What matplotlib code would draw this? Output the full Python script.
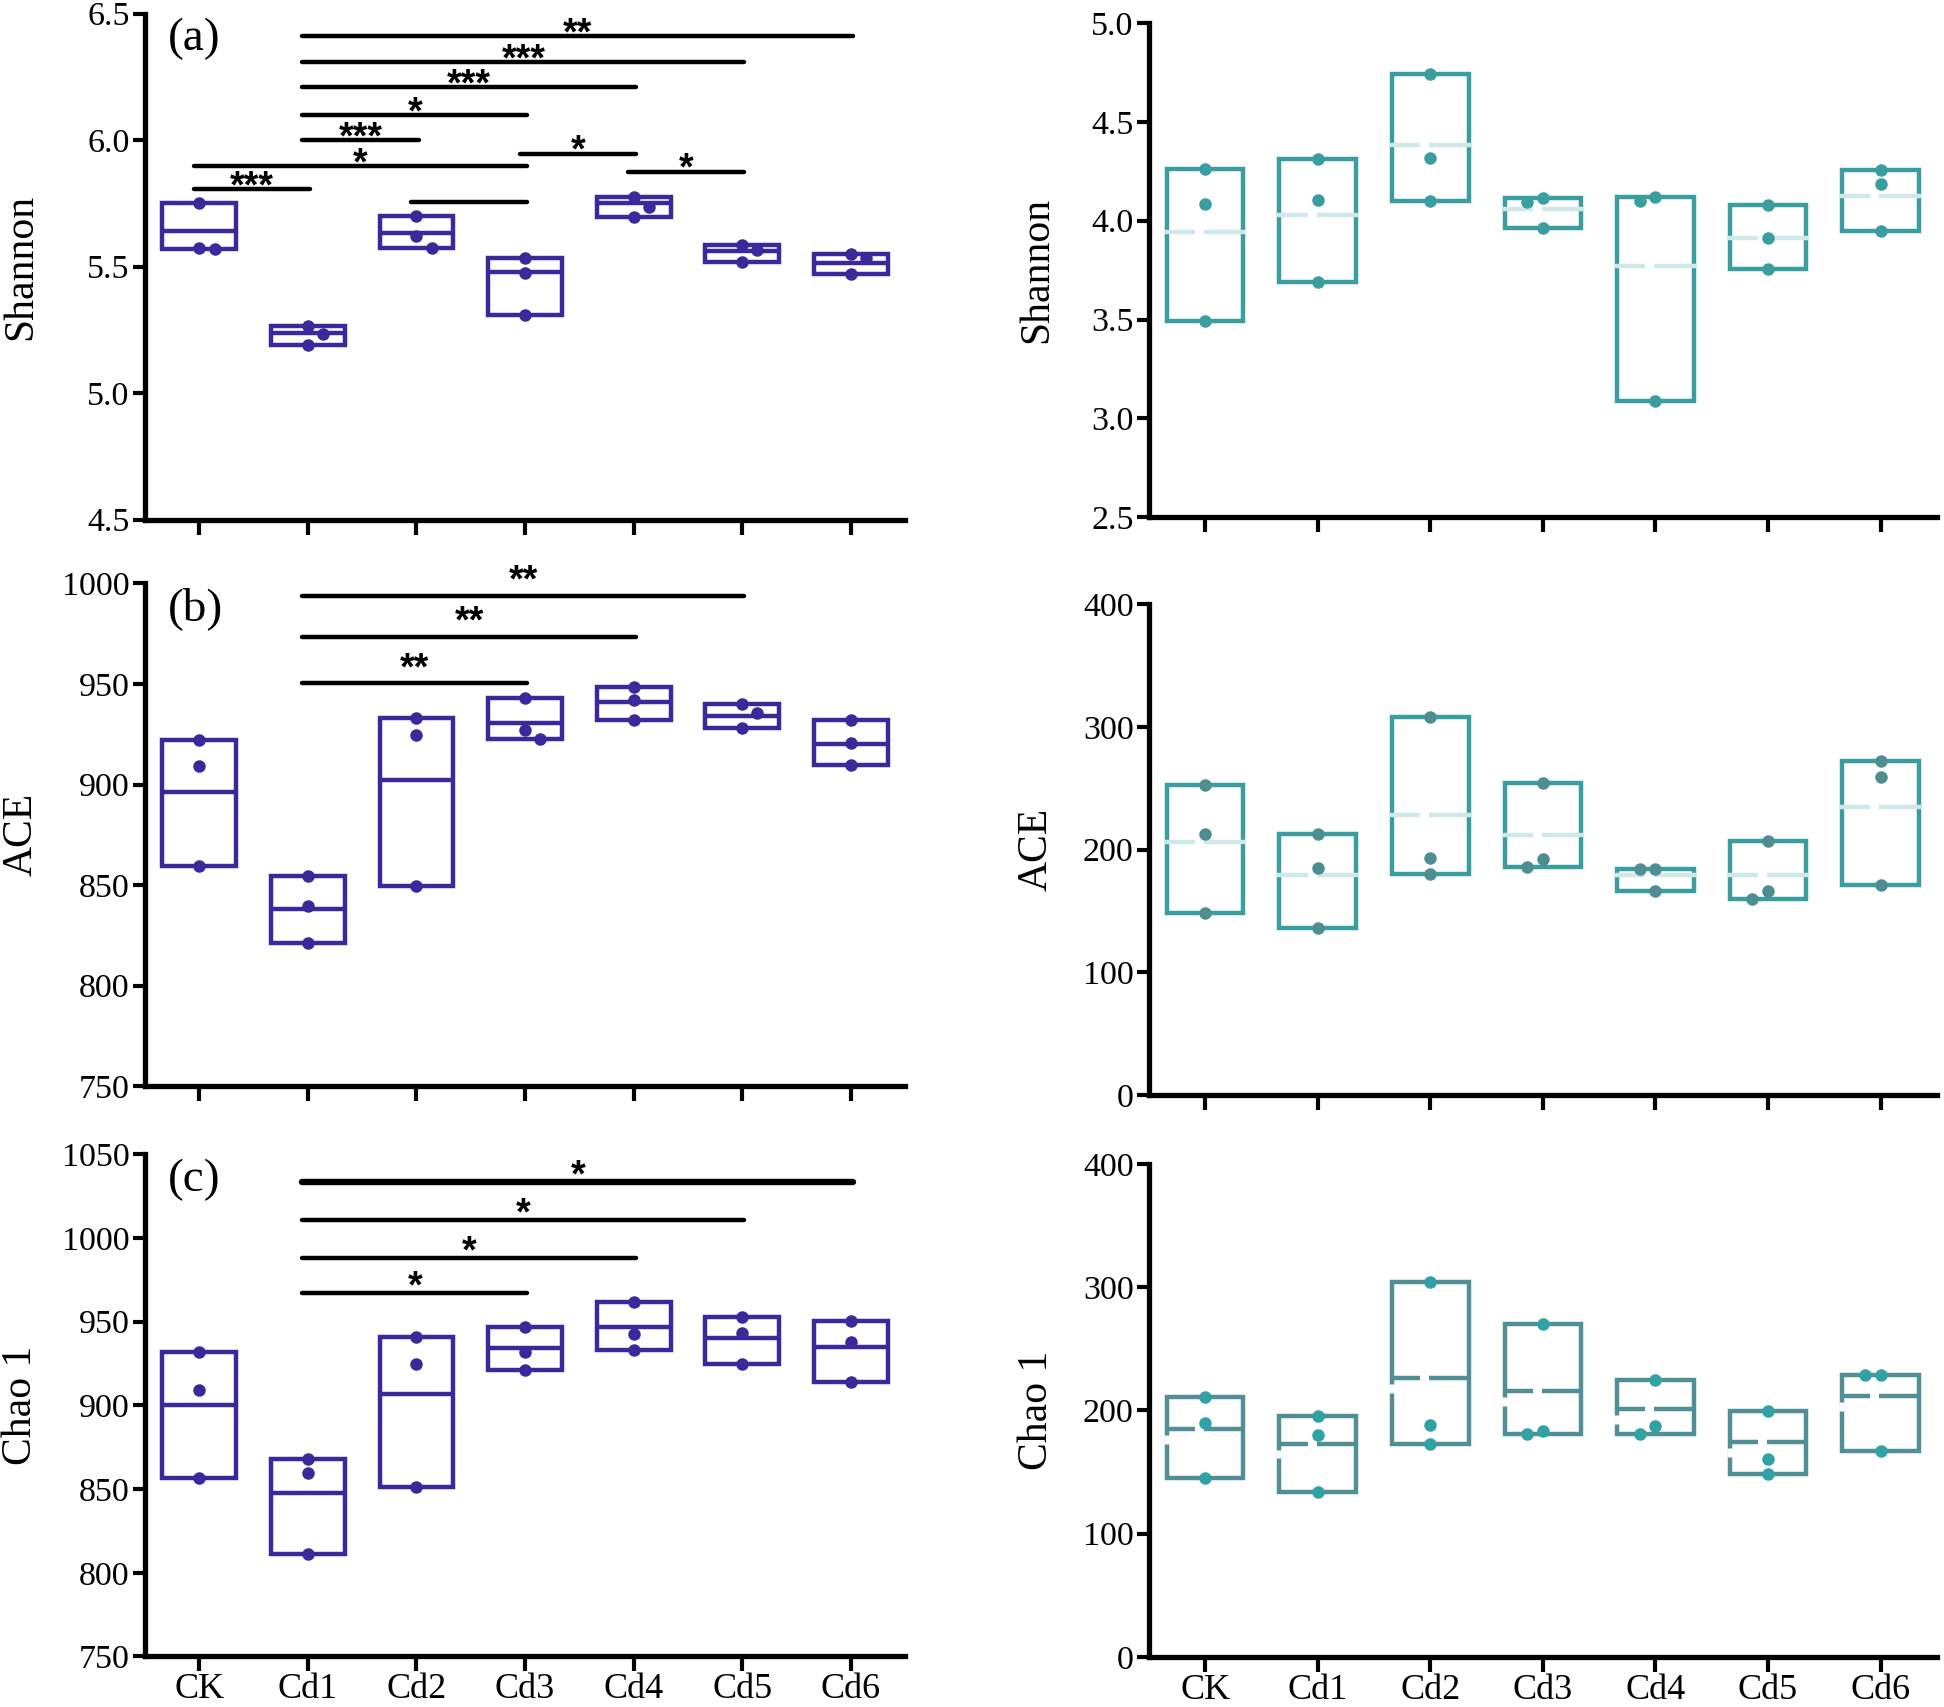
import matplotlib
matplotlib.use("Agg")
import matplotlib.pyplot as plt
from matplotlib.patches import Rectangle

# ---------------- data ----------------
groups = ["CK", "Cd1", "Cd2", "Cd3", "Cd4", "Cd5", "Cd6"]

# left column (bacteria) - three replicate values per group and the centre line
shannon_pts = [[5.75, 5.575, 5.57], [5.265, 5.235, 5.19], [5.70, 5.62, 5.575],
               [5.535, 5.475, 5.31], [5.775, 5.735, 5.695], [5.585, 5.565, 5.52],
               [5.55, 5.535, 5.47]]
shannon_mid = [5.641, 5.236, 5.634, 5.48, 5.752, 5.56, 5.515]

ace_pts = [[922, 909, 859.5], [854.5, 839.5, 821], [933, 924.5, 849.5],
           [943, 927, 922.5], [948.5, 942, 932], [940, 935.5, 928],
           [932, 920.5, 909.5]]
ace_mid = [896.5, 838, 902, 930.5, 941, 934, 920]

chao_pts = [[932, 909, 856.5], [868, 859.5, 811], [941, 925, 851],
            [947, 932, 921], [961.5, 942.5, 933], [952.5, 943.5, 924.5],
            [950.5, 938, 914]]
chao_mid = [900, 847.5, 906.5, 934, 947, 940.5, 935]

# right column (fungi)
shannon_f_pts = [[4.26, 4.085, 3.495], [4.315, 4.105, 3.69], [4.745, 4.32, 4.10],
                 [4.115, 4.095, 3.965], [4.12, 4.10, 3.085], [4.08, 3.915, 3.755],
                 [4.255, 4.185, 3.95]]
shannon_f_mid = [3.945, 4.03, 4.385, 4.06, 3.77, 3.915, 4.125]

ace_f_pts = [[252.5, 212.5, 148], [213, 185, 136.5], [308, 193, 180.5],
             [254.5, 192, 185.5], [184.5, 184.5, 166.5], [207, 166.5, 160],
             [272, 259, 171.5]]
ace_f_mid = [206.5, 179.5, 228, 211.5, 179, 179, 235]

chao_f_pts = [[211, 189.5, 145.5], [195.5, 180, 133.5], [304.5, 188, 173],
              [270, 183.5, 181], [224.5, 187, 180.5], [199.5, 160.5, 148.5],
              [229, 228.5, 167]]
chao_f_mid = [185, 173, 226, 215.5, 201, 174, 211.5]

# significance brackets (group index pairs, height, label)
shannon_sig_pairs = [(1, 6), (1, 5), (1, 4), (1, 3), (1, 2), (0, 3), (3, 4), (4, 5), (0, 1), (2, 3)]
shannon_sig_y = [6.412, 6.308, 6.209, 6.099, 5.999, 5.899, 5.947, 5.876, 5.807, 5.756]
shannon_sig_lab = ["**", "***", "***", "*", "***", "*", "*", "*", "***", ""]

ace_sig_pairs = [(1, 5), (1, 4), (1, 3)]
ace_sig_y = [993.8, 973.5, 950.2]
ace_sig_lab = ["**", "**", "**"]

chao_sig_pairs = [(1, 6), (1, 5), (1, 4), (1, 3)]
chao_sig_y = [1033.2, 1010.8, 988.0, 967.2]
chao_sig_lab = ["*", "*", "*", "*"]

shannon_ticks = [4.5, 5.0, 5.5, 6.0, 6.5]
ace_ticks = [750, 800, 850, 900, 950, 1000]
chao_ticks = [750, 800, 850, 900, 950, 1000, 1050]
shannon_f_ticks = [2.5, 3.0, 3.5, 4.0, 4.5, 5.0]
count_f_ticks = [0, 100, 200, 300, 400]

# ---------------- style ----------------
SERIF = ["Liberation Serif", "DejaVu Serif"]
SANS = ["Liberation Sans", "DejaVu Sans"]
PURPLE = "#39299B"
TEAL = "#3A9DA0"
TEAL_DOT_B = "#4E8E93"
TEAL_BOX_C = "#4F8F95"
TEAL_DOT_C = "#30A1A4"
LIGHT = "#cfe8ea"
BOX_W = 0.68
BOX_LW = 3.2

fig = plt.figure(figsize=(19.44, 17.07), dpi=100)

left_pos = [(0.0746, 0.6956, 0.391, 0.2964),
            (0.0746, 0.3636, 0.391, 0.2947),
            (0.0746, 0.0296, 0.391, 0.2942)]
right_pos = [(0.591, 0.6971, 0.4053, 0.2893),
             (0.591, 0.3584, 0.4053, 0.2878),
             (0.591, 0.0293, 0.4053, 0.2889)]


def swarm_offsets(vals, yr, side):
    offs = [0.0] * len(vals)
    for k in range(1, len(vals)):
        for j in range(k):
            if abs(vals[k] - vals[j]) < 0.025 * yr and offs[j] == offs[k]:
                offs[k] = offs[j] + side * 0.14
    return offs


def style_axes(ax, ticks, fmt, ylabel, labx, show_xlabels):
    ax.set_xlim(-0.5, 6.5)
    ax.set_ylim(ticks[0], ticks[-1])
    for s in ["top", "right"]:
        ax.spines[s].set_visible(False)
    for s in ["left", "bottom"]:
        ax.spines[s].set_linewidth(3.8)
        ax.spines[s].set_capstyle("projecting")
    ax.set_yticks(ticks)
    ax.set_yticklabels([fmt.format(t) for t in ticks], fontfamily=SERIF, fontsize=24.5)
    ax.set_xticks(range(len(groups)))
    if show_xlabels:
        ax.set_xticklabels(groups, fontfamily=SERIF, fontsize=26)
    else:
        ax.set_xticklabels([])
    ax.tick_params(axis="y", direction="out", length=9, width=3, pad=2)
    ax.tick_params(axis="x", direction="out", length=11, width=3, pad=1)
    ax.set_ylabel(ylabel, fontfamily=SERIF, fontsize=30)
    ax.yaxis.set_label_coords(labx, 0.5)


def draw_boxes(ax, pts, mids, box_color, dot_color, yr, side, mid_style):
    for i, (p, m) in enumerate(zip(pts, mids)):
        lo, hi = min(p), max(p)
        ax.add_patch(Rectangle((i - BOX_W / 2, lo), BOX_W, hi - lo, fill=False,
                               edgecolor=box_color, lw=BOX_LW, joinstyle="miter", zorder=2))
        x0, x1 = i - BOX_W / 2, i + BOX_W / 2
        if mid_style == "solid":
            ax.plot([x0, x1], [m, m], color=box_color, lw=BOX_LW, zorder=2,
                    solid_capstyle="butt")
        elif mid_style == "light":
            ax.plot([x0 - 0.02, i - 0.09], [m, m], color=LIGHT, lw=BOX_LW, zorder=3,
                    solid_capstyle="butt")
            ax.plot([i - 0.01, x1 + 0.02], [m, m], color=LIGHT, lw=BOX_LW, zorder=3,
                    solid_capstyle="butt")
        else:  # box coloured with small breaks
            ax.plot([x0, i - 0.09], [m, m], color=box_color, lw=BOX_LW, zorder=3,
                    solid_capstyle="butt")
            ax.plot([i - 0.01, x1], [m, m], color=box_color, lw=BOX_LW, zorder=3,
                    solid_capstyle="butt")
            ax.plot([x0, x0], [m - 0.012 * yr, m - 0.03 * yr], color="white",
                    lw=BOX_LW + 1.5, zorder=3, solid_capstyle="butt")
        offs = swarm_offsets(p, yr, side)
        ax.plot([i + o for o in offs], p, "o", ms=9, color=dot_color,
                mec="none", zorder=4, clip_on=False)


def draw_sig(ax, pairs, ys, labs, color="black", thick_first=False, star_off=-8):
    for k, ((a, b), y, lab) in enumerate(zip(pairs, ys, labs)):
        x0, x1 = a - 0.05, b + 0.02
        lw = 4.6 if (thick_first and k == 0) else 3.2
        ax.plot([x0, x1], [y, y], color=color, lw=lw, solid_capstyle="round",
                zorder=5, clip_on=False)
        if lab:
            ax.annotate(lab, xy=((x0 + x1) / 2, y), xytext=(0, star_off),
                        textcoords="offset points", ha="center", va="baseline",
                        fontfamily=SANS, fontsize=27, fontweight="bold", zorder=6)


def panel_label(ax, txt):
    ax.text(0.03, 0.95, txt, transform=ax.transAxes, ha="left", va="center",
            fontfamily=SERIF, fontsize=34)


# ---------------- left column ----------------
ax = fig.add_axes(left_pos[0])
style_axes(ax, shannon_ticks, "{:.1f}", "Shannon", -0.138, False)
draw_boxes(ax, shannon_pts, shannon_mid, PURPLE, PURPLE, 2.0, 1, "solid")
draw_sig(ax, shannon_sig_pairs, shannon_sig_y, shannon_sig_lab, star_off=-6)
panel_label(ax, "(a)")

ax = fig.add_axes(left_pos[1])
style_axes(ax, ace_ticks, "{:.0f}", "ACE", -0.138, False)
draw_boxes(ax, ace_pts, ace_mid, PURPLE, PURPLE, 250, 1, "solid")
draw_sig(ax, ace_sig_pairs, ace_sig_y, ace_sig_lab, star_off=3)
panel_label(ax, "(b)")

ax = fig.add_axes(left_pos[2])
style_axes(ax, chao_ticks, "{:.0f}", "Chao 1", -0.138, True)
draw_boxes(ax, chao_pts, chao_mid, PURPLE, PURPLE, 300, 1, "solid")
draw_sig(ax, chao_sig_pairs, chao_sig_y, chao_sig_lab, thick_first=True, star_off=-3)
panel_label(ax, "(c)")

# ---------------- right column ----------------
ax = fig.add_axes(right_pos[0])
style_axes(ax, shannon_f_ticks, "{:.1f}", "Shannon", -0.118, False)
draw_boxes(ax, shannon_f_pts, shannon_f_mid, TEAL, TEAL, 2.5, -1, "light")

ax = fig.add_axes(right_pos[1])
style_axes(ax, count_f_ticks, "{:.0f}", "ACE", -0.118, False)
draw_boxes(ax, ace_f_pts, ace_f_mid, TEAL, TEAL_DOT_B, 400, -1, "light")

ax = fig.add_axes(right_pos[2])
style_axes(ax, count_f_ticks, "{:.0f}", "Chao 1", -0.118, True)
draw_boxes(ax, chao_f_pts, chao_f_mid, TEAL_BOX_C, TEAL_DOT_C, 400, -1, "broken")

fig.savefig("out.png", dpi=100)
